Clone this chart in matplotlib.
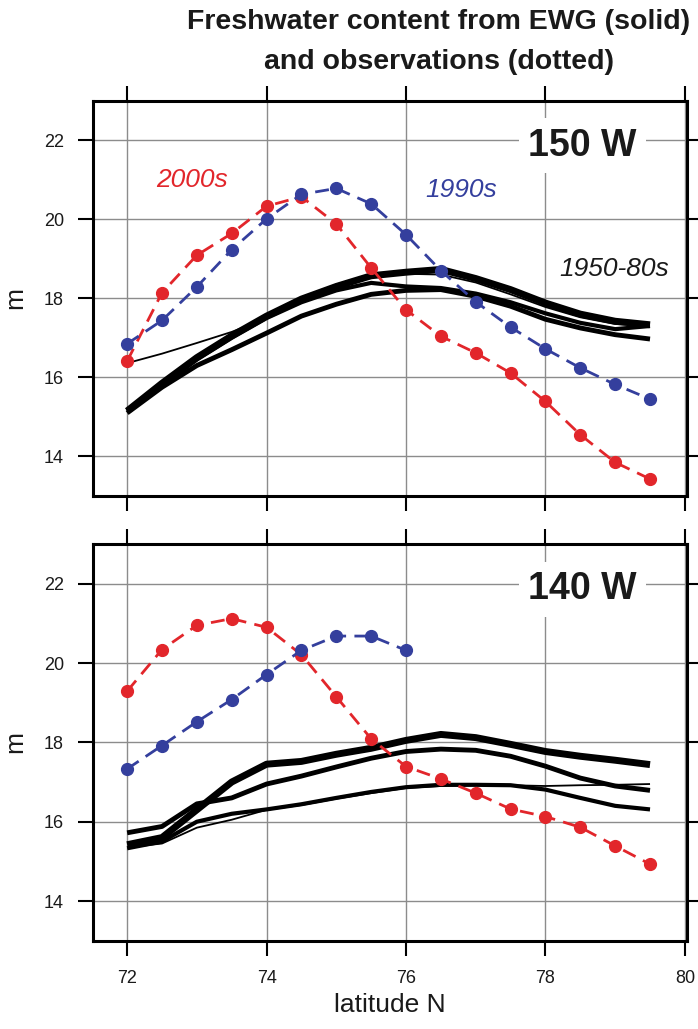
"""Freshwater content along 150W / 140W: EWG model runs vs observations -> out.png"""

import matplotlib
matplotlib.use("Agg")
import matplotlib.pyplot as plt

RED, BLUE, GRID = "#e2262b", "#343f9d", "#8c8c8c"
plt.rcParams.update({"font.family": ["Liberation Sans", "DejaVu Sans"],
                     "text.color": "#1a1a1a", "xtick.color": "black", "ytick.color": "black",
                     "xtick.labelcolor": "#1a1a1a", "ytick.labelcolor": "#1a1a1a"})

# latitude N of the section points
lat = [72.0, 72.5, 73.0, 73.5, 74.0, 74.5, 75.0, 75.5,
       76.0, 76.5, 77.0, 77.5, 78.0, 78.5, 79.0, 79.5]
lat_1990_140 = [72.0, 72.5, 73.0, 73.5, 74.0, 74.5, 75.0, 75.5, 76.0]

# 150 W panel (m)
obs150_2000s = [16.41, 18.14, 19.09, 19.64, 20.33, 20.57, 19.88, 18.77,
                17.71, 17.04, 16.62, 16.11, 15.39, 14.55, 13.85, 13.43]
obs150_1990s = [16.85, 17.44, 18.29, 19.23, 20.01, 20.63, 20.78, 20.39,
                19.61, 18.70, 17.91, 17.27, 16.72, 16.24, 15.82, 15.45]
ewg150_a = [15.15, 15.85, 16.50, 17.05, 17.55, 17.98, 18.30, 18.57,
            18.66, 18.73, 18.50, 18.22, 17.88, 17.60, 17.42, 17.33]
ewg150_b = [15.10, 15.75, 16.30, 16.70, 17.12, 17.55, 17.85, 18.10,
            18.20, 18.22, 18.05, 17.80, 17.47, 17.25, 17.08, 16.97]
ewg150_c = [15.15, 15.80, 16.45, 17.00, 17.50, 17.90, 18.20, 18.39,
            18.30, 18.26, 18.12, 17.90, 17.62, 17.38, 17.22, 17.30]
ewg150_d = [16.36, 16.60, 16.87, 17.15, 17.50, 18.00, 18.35, 18.60,
            18.62, 18.60, 18.40, 18.10, 17.78, 17.52, 17.35, 17.30]

# 140 W panel (m)
obs140_2000s = [19.29, 20.34, 20.95, 21.12, 20.90, 20.21, 19.15, 18.09,
                17.39, 17.08, 16.72, 16.32, 16.13, 15.86, 15.39, 14.93]
obs140_1990s = [17.33, 17.92, 18.52, 19.08, 19.71, 20.32, 20.68, 20.68, 20.32]
ewg140_a = [15.42, 15.60, 16.30, 17.00, 17.45, 17.52, 17.70, 17.85,
            18.05, 18.20, 18.12, 17.95, 17.77, 17.65, 17.55, 17.44]
ewg140_b = [15.72, 15.88, 16.45, 16.60, 16.95, 17.15, 17.38, 17.60,
            17.77, 17.83, 17.80, 17.65, 17.40, 17.10, 16.90, 16.79]
ewg140_c = [15.33, 15.50, 16.00, 16.20, 16.31, 16.44, 16.60, 16.75,
            16.87, 16.93, 16.93, 16.92, 16.81, 16.60, 16.40, 16.31]
ewg140_d = [15.35, 15.45, 15.85, 16.05, 16.30, 16.42, 16.58, 16.72,
            16.85, 16.90, 16.92, 16.92, 16.90, 16.92, 16.93, 16.95]

fig = plt.figure(figsize=(6.98, 10.29), dpi=100)
ax1 = fig.add_axes([0.1332, 0.518, 0.851, 0.3842])
ax2 = fig.add_axes([0.1332, 0.0858, 0.851, 0.3855])


def panel(ax, ewg, red, blue, blue_lat, name):
    for vals, w in zip(ewg, [5, 3.5, 3, 1.3]):
        ax.plot(lat, vals, color="black", lw=w, solid_capstyle="butt", zorder=3)
    ax.plot(lat, red, color=RED, lw=2, ls=(0, (5, 3)), marker="o", ms=8.5, zorder=4)
    ax.plot(blue_lat, blue, color=BLUE, lw=2, ls=(0, (5, 3)), marker="o", ms=8.5, zorder=4)
    ax.set_xlim(71.51, 80.03); ax.set_ylim(13, 23)
    ax.set_xticks([72, 74, 76, 78, 80]); ax.set_yticks([14, 16, 18, 20, 22])
    ax.grid(color=GRID, lw=1)
    ax.tick_params(direction="out", length=11, width=1.5, top=True, right=True,
                   labelsize=13, pad=10)
    for s in ax.spines.values():
        s.set_linewidth(2.2)
    ax.text(78.53, 21.86, name, fontsize=27, fontweight="bold", ha="center", va="center",
            bbox=dict(boxstyle="square,pad=0.25", fc="white", ec="none"))


panel(ax1, [ewg150_a, ewg150_b, ewg150_c, ewg150_d], obs150_2000s, obs150_1990s, lat, "150 W")
panel(ax2, [ewg140_a, ewg140_b, ewg140_c, ewg140_d], obs140_2000s, obs140_1990s, lat_1990_140, "140 W")
ax1.tick_params(labelbottom=False)

ax1.text(72.93, 20.98, "2000s", color=RED, fontsize=19, style="italic", ha="center", va="center")
ax1.text(76.79, 20.75, "1990s", color=BLUE, fontsize=19, style="italic", ha="center", va="center")
ax1.text(78.99, 18.75, "1950-80s", color="#1a1a1a", fontsize=19, style="italic", ha="center", va="center")

fig.text(439 / 698, 1 - 22 / 1029, "Freshwater content from EWG (solid)",
         fontsize=20.5, fontweight="bold", ha="center", va="center")
fig.text(439 / 698, 1 - 62 / 1029, "and observations (dotted)",
         fontsize=20.5, fontweight="bold", ha="center", va="center")
fig.text(15 / 698, 1 - 298 / 1029, "m", fontsize=19, rotation=90, ha="center", va="center")
fig.text(15 / 698, 1 - 742 / 1029, "m", fontsize=19, rotation=90, ha="center", va="center")
fig.text(390 / 698, 1 - 1005 / 1029, "latitude N", fontsize=19, ha="center", va="center")

fig.savefig("out.png", dpi=100, facecolor="white")
